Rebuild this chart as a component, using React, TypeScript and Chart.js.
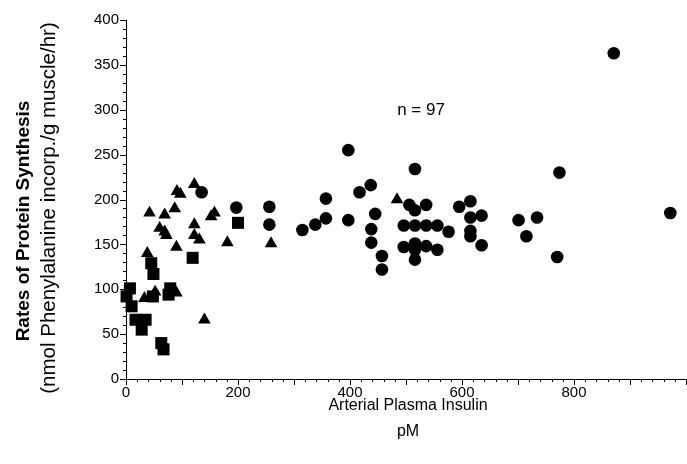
import { useEffect, useRef } from "react";
import { Chart, registerables } from "chart.js";

Chart.register(...registerables);

// ---- data ----
const xTickValues = [0, 200, 400, 600, 800];
const yTickValues = [0, 50, 100, 150, 200, 250, 300, 350, 400];
const xMinorStep = 20;
const xMajorStep = 100;
const yMinorStep = 10;
const yMajorStep = 50;

const circleX = [135, 197, 256, 256, 315, 338, 357, 357, 397, 397, 417, 437, 445, 438, 438, 457, 457, 516, 506, 516, 536, 496, 516, 536, 556, 576, 496, 516, 516, 536, 556, 516, 595, 615, 615, 615, 615, 635, 635, 701, 734, 715, 774, 770, 871, 972];
const circleY = [208, 191, 192, 172, 166, 172, 201, 179, 255, 177, 208, 216, 184, 167, 152, 137, 122, 234, 194, 188, 194, 171, 171, 171, 171, 164, 147, 151, 144, 148, 144, 133, 192, 198, 180, 165, 159, 182, 149, 177, 180, 159, 230, 136, 363, 185];

const triangleX = [122, 91, 97, 87, 42, 69, 158, 152, 122, 60, 69, 72, 122, 131, 90, 181, 38, 33, 52, 90, 140, 259, 484];
const triangleY = [217, 209, 206, 190, 185, 183, 185, 181, 172, 168, 164, 160, 160, 155, 147, 152, 140, 90, 97, 96, 66, 151, 200];

const squareX = [119, 45, 49, 7, 1, 10, 48, 79, 76, 17, 35, 28, 63, 67, 200];
const squareY = [135, 129, 117, 101, 92, 81, 92, 101, 94, 66, 66, 55, 40, 33, 174];

const xTitle = "Arterial Plasma Insulin";
const xUnit = "pM";
const yTitle1 = "Rates of Protein Synthesis";
const yTitle2 = "(nmol Phenylalanine incorp./g muscle/hr)";
const noteText = "n = 97";

const FONT = "'Liberation Sans', Arial, Helvetica, sans-serif";

function toPoints(xs: number[], ys: number[]) {
  return xs.map((x, i) => ({ x, y: ys[i] }));
}

const decorPlugin = {
  id: "decor",
  afterDraw(chart: any) {
    const { ctx, scales } = chart;
    const x = scales.x;
    const y = scales.y;
    ctx.save();
    ctx.strokeStyle = "#000";
    ctx.lineWidth = 1;
    // x ticks
    for (let v = x.min; v <= x.max + 0.001; v += xMinorStep) {
      const px = Math.round(x.getPixelForValue(v)) + 0.5;
      const len = v % xMajorStep === 0 ? 6 : 3;
      ctx.beginPath();
      ctx.moveTo(px, y.bottom);
      ctx.lineTo(px, y.bottom + len);
      ctx.stroke();
    }
    // y ticks
    for (let v = y.min; v <= y.max + 0.001; v += yMinorStep) {
      const py = Math.round(y.getPixelForValue(v)) + 0.5;
      const len = v % yMajorStep === 0 ? 6 : 3;
      ctx.beginPath();
      ctx.moveTo(x.left, py);
      ctx.lineTo(x.left - len, py);
      ctx.stroke();
    }
    ctx.fillStyle = "#000";
    ctx.textAlign = "center";
    ctx.textBaseline = "middle";
    // x titles
    const cx = (x.left + x.right) / 2 + 2;
    ctx.font = `16px ${FONT}`;
    ctx.fillText(xTitle, cx, 406);
    ctx.fillText(xUnit, cx, 432);
    // note
    ctx.font = `17px ${FONT}`;
    ctx.fillText(noteText, 421, 110);
    // y titles
    ctx.save();
    ctx.translate(24, 221);
    ctx.rotate(-Math.PI / 2);
    ctx.font = `bold 19px ${FONT}`;
    ctx.fillText(yTitle1, 0, 0);
    ctx.restore();
    ctx.save();
    ctx.translate(49, 208);
    ctx.rotate(-Math.PI / 2);
    ctx.font = `20.5px ${FONT}`;
    ctx.fillText(yTitle2, 0, 0);
    ctx.restore();
    ctx.restore();
  },
};

export default function App() {
  const ref = useRef<HTMLCanvasElement | null>(null);
  useEffect(() => {
    if (!ref.current) return;
    const common = {
      backgroundColor: "#000",
      borderColor: "#000",
      borderWidth: 0,
      clip: false as any,
    };
    const chart = new Chart(ref.current, {
      type: "scatter",
      data: {
        datasets: [
          { ...common, label: "circles", data: toPoints(circleX, circleY), pointStyle: "circle", pointRadius: 6.3 },
          { ...common, label: "triangles", data: toPoints(triangleX, triangleY), pointStyle: "triangle", pointRadius: 7.3 },
          { ...common, label: "squares", data: toPoints(squareX, squareY), pointStyle: "rect", pointRadius: 8.5 },
        ],
      },
      options: {
        animation: false,
        responsive: false,
        devicePixelRatio: 1,
        layout: { autoPadding: false, padding: { left: 0, right: 1, top: 20, bottom: 0 } },
        plugins: { legend: { display: false }, tooltip: { enabled: false } },
        scales: {
          x: {
            type: "linear",
            min: 0,
            max: 1000,
            grid: { display: false, drawTicks: false },
            border: { display: true, color: "#000", width: 1 },
            afterBuildTicks: (s: any) => {
              s.ticks = xTickValues.map((v) => ({ value: v }));
            },
            afterFit: (s: any) => {
              s.height = 85;
              s.paddingLeft = 0;
              s.paddingRight = 0;
            },
            ticks: {
              color: "#000",
              padding: 5,
              maxRotation: 0,
              autoSkip: false,
              font: { family: FONT, size: 15 },
            },
          },
          y: {
            type: "linear",
            min: 0,
            max: 400,
            grid: { display: false, drawTicks: false },
            border: { display: true, color: "#000", width: 1 },
            afterBuildTicks: (s: any) => {
              s.ticks = yTickValues.map((v) => ({ value: v }));
            },
            afterFit: (s: any) => {
              s.width = 126;
              s.paddingTop = 0;
              s.paddingBottom = 0;
            },
            ticks: {
              color: "#000",
              padding: 7,
              autoSkip: false,
              font: { family: FONT, size: 15 },
            },
          },
        },
      },
      plugins: [decorPlugin],
    });
    return () => chart.destroy();
  }, []);
  return (
    <div style={{ position: "fixed", left: 0, top: 0, width: 687, height: 464, background: "#fff" }}>
      <canvas ref={ref} width={687} height={464} style={{ width: 687, height: 464 }} />
    </div>
  );
}
